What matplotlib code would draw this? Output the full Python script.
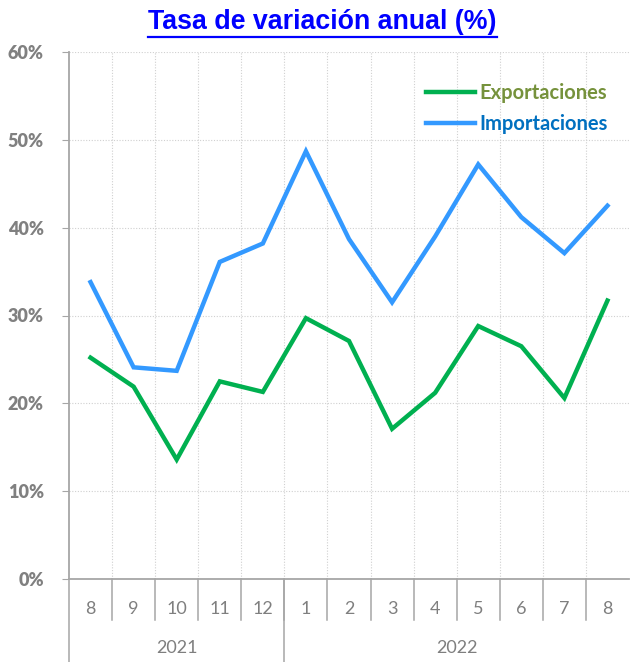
import matplotlib
matplotlib.use("Agg")
import matplotlib.pyplot as plt
from matplotlib.transforms import blended_transform_factory

months = ["8", "9", "10", "11", "12", "1", "2", "3", "4", "5", "6", "7", "8"]
years = ["2021", "2022"]
year_counts = [5, 8]
exportaciones = [25.2, 21.9, 13.6, 22.5, 21.3, 29.7, 27.1, 17.1, 21.2, 28.8, 26.5, 20.6, 31.7]
importaciones = [33.8, 24.1, 23.7, 36.1, 38.2, 48.7, 38.7, 31.5, 39.0, 47.2, 41.2, 37.1, 42.5]
yticks = [0, 10, 20, 30, 40, 50, 60]

W, H = 630, 662
fig = plt.figure(figsize=(W / 100, H / 100), dpi=100)
ax = fig.add_axes([69 / W, 1 - 579 / H, (629 - 69) / W, (579 - 52) / H])

x = list(range(len(months)))
ax.plot(x, exportaciones, color="#00B050", lw=3.2, label="Exportaciones", solid_joinstyle="miter", zorder=3)
ax.plot(x, importaciones, color="#3399FF", lw=3.2, label="Importaciones", solid_joinstyle="miter", zorder=3)

ax.set_xlim(-0.5, len(months) - 0.5)
ax.set_ylim(0, 60)
ax.set_yticks(yticks)
ax.set_yticklabels([f"{v}%" for v in yticks], fontsize=13, fontweight="heavy",
                   color="#808080", family="Lato")
ax.tick_params(axis="y", length=5, color="#A6A6A6", pad=13)
ax.set_xticks([])

# grid
for v in yticks[1:]:
    ax.axhline(v, color="#D0D0D0", lw=0.8, ls=(0, (1, 1.5)), zorder=1)
for k in range(len(months) - 1):
    ax.axvline(k + 0.5, color="#D0D0D0", lw=0.8, ls=(0, (1, 1.5)), zorder=1)

for s in ["top", "right"]:
    ax.spines[s].set_visible(False)
ax.spines["left"].set_color("#A6A6A6")
ax.spines["left"].set_linewidth(1.3)
ax.spines["bottom"].set_color("#A6A6A6")
ax.spines["bottom"].set_linewidth(1.3)

# multi-level category axis
tr = blended_transform_factory(ax.transData, ax.transAxes)
ah = 579 - 52
m_len = 41 / ah
y_len = 84 / ah
for k in range(len(months)):
    ax.text(k, -30 / ah, months[k], transform=tr, ha="center", va="center",
            fontsize=13, color="#7F7F7F", family="Lato")
for k in range(1, len(months)):
    ax.plot([k - 0.5, k - 0.5], [0, -m_len], transform=tr, color="#A6A6A6", lw=1.1, clip_on=False)
start = 0
bounds = [-0.5]
for yname, cnt in zip(years, year_counts):
    ax.text(start + (cnt - 1) / 2, -69 / ah, yname, transform=tr, ha="center", va="center",
            fontsize=13, color="#7F7F7F", family="Lato")
    start += cnt
    bounds.append(start - 0.5)
for b in bounds[:-1]:
    ax.plot([b, b], [0, -y_len], transform=tr, color="#A6A6A6", lw=1.1, clip_on=False)

leg = ax.legend(loc="upper right", bbox_to_anchor=(608 / W, 1 - 83 / H),
                bbox_transform=fig.transFigure, frameon=False, borderpad=0, borderaxespad=0,
                handlelength=2.4, handletextpad=0.25, labelspacing=0.55,
                prop={"family": "Lato", "weight": "bold", "size": 14.5})
for t, c in zip(leg.get_texts(), ["#76923C", "#0070C0"]):
    t.set_color(c)

fig.text(322 / W, 1 - 22 / H, "Tasa de variación anual (%)", ha="center", va="center",
         fontsize=19.3, fontweight="bold", color="#0000FF", family="Liberation Sans")
# underline
fig.add_artist(plt.Line2D([148 / W, 497 / W], [1 - 37 / H, 1 - 37 / H], color="#0000FF", lw=1.6))

fig.savefig("out.png", dpi=100)
